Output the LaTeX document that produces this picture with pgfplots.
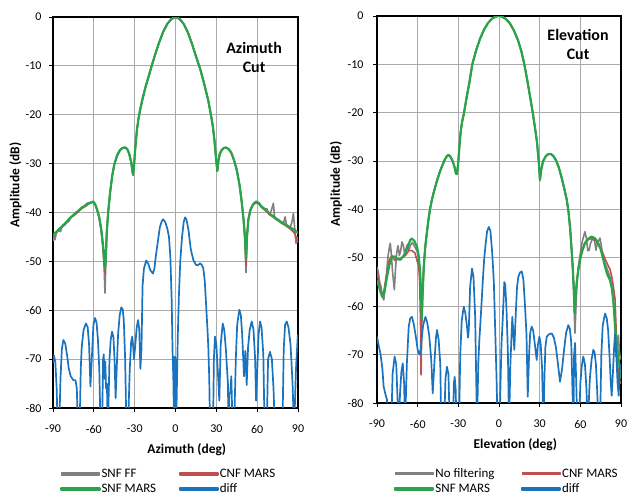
\documentclass[border=0pt]{standalone}
\usepackage{pgfplots}
\pgfplotsset{compat=1.18}
\usepackage{fontspec}
\setmainfont{Carlito}
\definecolor{cgray}{RGB}{128,128,128}
\definecolor{cred}{RGB}{192,80,77}
\definecolor{cgreen}{RGB}{40,165,75}
\definecolor{cblue}{RGB}{25,115,190}
\definecolor{cgrid}{RGB}{170,170,170}
\pgfplotsset{
  patternplot/.style={
    scale only axis,
    xmin=-90,xmax=90,ymin=-80,ymax=0,
    xtick={-90,-60,...,90}, ytick={-80,-70,...,0},
    grid=major, major grid style={cgrid, line width=0.8bp},
    axis line style={black, line width=1.3bp},
    tick align=outside, xtick pos=left, ytick pos=left,
    major tick length=4bp, tick style={black, line width=0.8bp},
    /pgf/number format/assume math mode=true,
    tick label style={font=\fontsize{12}{14}\selectfont},
    xticklabel style={yshift=-9.5bp},
    label style={font=\bfseries\fontsize{13.5}{16}\selectfont},
    legend style={draw=none, fill=none, inner sep=0pt, nodes={inner sep=1bp},
      font=\fontsize{13}{15}\selectfont, anchor=north west, row sep=3bp},
    legend columns=2,
    legend image code/.code={\fill[##1] (0bp,-0.85bp) rectangle (38bp,0.85bp);},
    legend cell align=left,
    every axis plot/.append style={line join=round},
  },
  sgray/.style={cgray, line width=1.6bp},
  sred/.style={cred, line width=1.6bp},
  sgreen/.style={cgreen, line width=2.2bp},
  sblue/.style={cblue, line width=1.7bp},
}
\begin{document}
\begin{tikzpicture}
\useasboundingbox (0,0) rectangle (627bp,496bp);
% ---------------- Azimuth ----------------
\begin{axis}[patternplot, width=245bp, height=391bp, at={(53bp,88bp)}, anchor=south west,
  yticklabel style={xshift=-4bp},
  xlabel={Azimuth (deg)}, ylabel={Amplitude (dB)},
  xlabel style={at={(axis description cs:0.546,0)}, anchor=center, yshift=-41.5bp},
  ylabel style={at={(axis description cs:-0.153,0.570)}, anchor=center},
  legend style={at={(axis description cs:0.029,-0.153)}, /tikz/every even column/.append style={column sep=22bp}}]
\addplot[sgray] coordinates {
(-90,-45.8) (-89.3,-44.8) (-88.6,-45.6) (-87.5,-44.2) (-86,-43.6) (-84.5,-43.9) (-83,-42.6) (-81.5,-42.6) (-80,-41.8) (-78.5,-41.9) (-77,-41) (-75,-40.6) (-73,-39.9) (-71,-39.6) (-69,-38.9) (-67,-38.8) (-65,-38.1) (-63,-38.1) (-60.4,-37.7) (-59,-38.3) (-57.5,-39.6) (-56,-41.2) (-54.5,-44) (-53.3,-47.5) (-52.4,-51.5) (-51.8,-56.5) (-51.2,-50) (-50.5,-44.3)
(-49.5,-40) (-48,-35.8) (-46.5,-32.5) (-45,-30.2) (-43,-28.4) (-41,-27.3) (-39,-26.8) (-37,-26.7) (-35.5,-27) (-34,-28) (-32.5,-29.8) (-31.7,-31.5) (-31.2,-32.3) (-30.5,-30.5) (-30,-28.5) (-29.3,-26) (-28.3,-23) (-27.2,-20.8) (-26,-19) (-24,-16.5) (-22,-14.3) (-20,-12.4) (-17.5,-10) (-15,-7.7) (-12,-5.2) (-9,-3) (-6,-1.4) (-3,-0.4) (0,0) (3,-0.4) (6,-1.4) (9,-3.1) (12,-5.4) (15,-8) (18,-10.5) (21,-13.6) (24,-17) (26,-20) (27.5,-22.5) (28.7,-25.5) (29.8,-29) (30.7,-31.5) (31.5,-29.5) (32.5,-28) (34,-27.2) (35.5,-26.8) (37,-26.7) (39,-27) (41,-27.8) (43,-29.3) (45,-31.3) (47,-34.3) (48.5,-37.5) (50,-41.5)
(51,-45.5) (51.8,-52.3) (52.6,-45) (53.5,-41.5) (55,-39.4) (57,-38.4) (59.2,-37.7) (61,-38) (63,-38.8) (65,-39.3) (67,-39.2) (69,-40.5) (70.5,-39.5) (71.9,-38.1) (72.8,-41) (74,-41.2) (76,-41.5) (78,-42.2) (79.5,-42) (80.5,-40.9) (81.5,-42.5) (83,-43) (84.5,-42.8) (85.5,-42) (86.6,-40.2) (87.5,-43) (88.5,-46.3) (89.3,-45) (90,-46)
};
\addlegendentry{SNF FF}
\addplot[sred] coordinates {
(-90,-45.2) (-88.5,-44.2) (-87,-44) (-85,-43.3) (-83,-42.9) (-81,-42.4) (-79,-41.8) (-77,-40.9) (-75,-40.7) (-72,-40) (-69,-39.2) (-66,-38.7) (-63,-38.1) (-60.4,-37.9) (-59,-38.4) (-57.5,-39.6) (-56,-41.1) (-54.5,-43.7) (-53.3,-46.8) (-52.4,-50) (-51.8,-52.5) (-51.2,-49.2) (-50.5,-44.1)
(-49.5,-40) (-48,-35.8) (-46.5,-32.5) (-45,-30.2) (-43,-28.4) (-41,-27.3) (-39,-26.8) (-37,-26.7) (-35.5,-27) (-34,-28) (-32.5,-29.8) (-31.7,-31.5) (-31.2,-32.3) (-30.5,-30.5) (-30,-28.5) (-29.3,-26) (-28.3,-23) (-27.2,-20.8) (-26,-19) (-24,-16.5) (-22,-14.3) (-20,-12.4) (-17.5,-10) (-15,-7.7) (-12,-5.2) (-9,-3) (-6,-1.4) (-3,-0.4) (0,0) (3,-0.4) (6,-1.4) (9,-3.1) (12,-5.4) (15,-8) (18,-10.5) (21,-13.6) (24,-17) (26,-20) (27.5,-22.5) (28.7,-25.5) (29.8,-29) (30.7,-31.5) (31.5,-29.5) (32.5,-28) (34,-27.2) (35.5,-26.8) (37,-26.7) (39,-27) (41,-27.8) (43,-29.3) (45,-31.3) (47,-34.3) (48.5,-37.5) (50,-41.5)
(51,-45.3) (51.8,-50.8) (52.6,-44.8) (53.5,-41.6) (55,-39.6) (57,-38.4) (59.2,-38) (61,-38.2) (63,-38.9) (66,-39.6) (69,-40.4) (72,-41) (75,-41.6) (78,-42.2) (81,-42.7) (84,-43.3) (86,-43.8) (87.5,-44.3) (88.5,-45) (89.3,-45.8) (90,-46.2)
};
\addlegendentry{CNF MARS}
\addplot[sgreen] coordinates {
(-90,-44.6) (-87,-43.8) (-84,-43) (-81,-42.2) (-78,-41.3) (-75,-40.5) (-72,-39.8) (-69,-39.1) (-66,-38.5) (-63,-38) (-60.4,-37.8) (-59,-38.3) (-57.5,-39.5) (-56,-41) (-54.5,-43.5) (-53.3,-46.5) (-52.4,-49.5) (-51.8,-51.4) (-51.2,-49) (-50.5,-44)
(-49.5,-40) (-48,-35.8) (-46.5,-32.5) (-45,-30.2) (-43,-28.4) (-41,-27.3) (-39,-26.8) (-37,-26.7) (-35.5,-27) (-34,-28) (-32.5,-29.8) (-31.7,-31.5) (-31.2,-32.3) (-30.5,-30.5) (-30,-28.5) (-29.3,-26) (-28.3,-23) (-27.2,-20.8) (-26,-19) (-24,-16.5) (-22,-14.3) (-20,-12.4) (-17.5,-10) (-15,-7.7) (-12,-5.2) (-9,-3) (-6,-1.4) (-3,-0.4) (0,0) (3,-0.4) (6,-1.4) (9,-3.1) (12,-5.4) (15,-8) (18,-10.5) (21,-13.6) (24,-17) (26,-20) (27.5,-22.5) (28.7,-25.5) (29.8,-29) (30.7,-31.5) (31.5,-29.5) (32.5,-28) (34,-27.2) (35.5,-26.8) (37,-26.7) (39,-27) (41,-27.8) (43,-29.3) (45,-31.3) (47,-34.3) (48.5,-37.5) (50,-41.5)
(51,-45) (51.8,-49.3) (52.6,-44.5) (53.5,-41.5) (55,-39.5) (57,-38.3) (59.2,-37.8) (61,-38) (63,-38.7) (66,-39.4) (69,-40.2) (72,-40.8) (75,-41.5) (78,-42) (81,-42.5) (84,-43) (87,-43.5) (90,-44.2)
};
\addlegendentry{SNF MARS}
\addplot[sblue] coordinates {
(-90,-70.8) (-89.3,-69.3) (-88.3,-70.5) (-87.3,-76) (-86.5,-85) (-85.5,-85) (-84.5,-74) (-83.5,-68) (-82.4,-66.1) (-81,-66.8) (-79.5,-69.5) (-78.5,-71.8) (-77,-73.5) (-75.1,-74.3) (-73.5,-74.3) (-72.5,-76) (-71.6,-85) (-70.5,-85) (-69.6,-72) (-68.9,-67.5) (-67.5,-64) (-65.8,-62.7) (-64.5,-63.5) (-63.5,-67) (-62.5,-75.6) (-61.5,-70) (-60.3,-63) (-59.1,-61.6) (-58,-62.5) (-57,-66) (-56,-72) (-55,-85) (-54,-85) (-53.2,-70) (-52.7,-69) (-52.2,-74) (-51.6,-70.5) (-51,-76) (-50.4,-75) (-49.7,-85) (-48.5,-70) (-47.6,-66) (-46.6,-64.4) (-45.6,-65.5) (-44.8,-70) (-44,-78) (-43.2,-72) (-42.2,-65) (-41,-61) (-39.8,-59.4) (-38.8,-59.8) (-38,-62) (-37,-70) (-36,-85) (-35,-85) (-33.6,-72) (-32.6,-66.5) (-31.8,-65.4) (-31.2,-67) (-30.5,-70) (-29.8,-68) (-28.5,-63.5) (-27.5,-62) (-26.6,-64) (-25.8,-72) (-25,-68) (-24.2,-55) (-23.2,-51.5) (-21.5,-49.8) (-20,-50.5) (-18.5,-51.8) (-16.6,-52.5) (-15.5,-51.5) (-14.5,-49) (-13,-46) (-11.5,-43) (-10,-41.7) (-9,-41.4) (-7.5,-42) (-6,-43.3) (-4.8,-45) (-3.8,-49) (-2.8,-58) (-2.2,-68) (-1.6,-74) (-1,-85) (-0.5,-69.5) (0,-70) (0.4,-85) (1,-76) (1.7,-65) (2.5,-57) (3.5,-50) (4.8,-45) (6,-42) (7,-41) (8,-41.4) (9.5,-43.5) (11.2,-47.5) (13.1,-49.7) (15,-50.7) (16.5,-50.8) (18,-50.4) (19.3,-50.7) (20.4,-51.4) (21.5,-54) (22.5,-59) (23.5,-64) (24.1,-67.5) (24.8,-74) (25.4,-85) (27.5,-85) (28.2,-70) (29,-65.4) (30,-67) (31.2,-73) (32.2,-78.5) (33.2,-67) (34.7,-62.7) (35.8,-64) (37,-68) (38.5,-75) (39,-85) (39.5,-77) (40.2,-77) (41,-73.5) (42,-85) (43,-85) (44.3,-70) (45.3,-63) (46.9,-59.9) (48,-61) (49,-65) (50.3,-73.5) (51.3,-68.3) (52.3,-75.3) (53.3,-67.6) (54.5,-64) (56,-62.3) (57.3,-64) (58.5,-70) (59.2,-78.5) (60,-73) (61,-65) (62.1,-62.3) (63.2,-63.5) (64.5,-69) (65.5,-85) (67,-85) (68,-70) (69.4,-68.5) (70.8,-70) (72,-76) (73.1,-85) (78.5,-85) (79.5,-68) (80.5,-63) (81.7,-62.3) (83,-63.5) (84.5,-67) (86,-75) (87.1,-85) (88.5,-72) (89.8,-65.4) (90,-65)
};
\addlegendentry{diff}
\node[font=\bfseries\fontsize{16}{19}\selectfont, align=center] at (axis cs:57.7,-8.2) {Azimuth\\Cut};
\end{axis}
% ---------------- Elevation ----------------
\begin{axis}[patternplot, width=244bp, height=387bp, at={(377bp,93bp)}, anchor=south west,
  yticklabel style={xshift=-6bp},
  xlabel={Elevation (deg)}, ylabel={Amplitude (dB)},
  xlabel style={at={(axis description cs:0.567,0)}, anchor=center, yshift=-41.5bp},
  ylabel style={at={(axis description cs:-0.168,0.566)}, anchor=center},
  legend style={at={(axis description cs:0.070,-0.166)}, /tikz/every even column/.append style={column sep=26bp}}]
\addplot[sgray] coordinates {
(-90,-51.9) (-89,-53) (-88,-55) (-87,-56) (-86,-58) (-85,-58.7) (-84,-56) (-83,-53.5) (-82,-50) (-81,-48) (-80.2,-47) (-79.5,-49) (-78.5,-53) (-77.2,-56.6) (-76.5,-53) (-75.5,-49) (-74.5,-47.5) (-73.5,-49.5) (-72.5,-48.5) (-71.6,-46.7) (-70.5,-47.5) (-69.5,-49.5) (-68.5,-48) (-67.5,-47.2) (-66.5,-48.5) (-65.5,-47.5) (-64,-46.8) (-62.5,-47.5) (-60.5,-48.6) (-59.3,-50) (-58.3,-53) (-57.5,-58) (-57,-63) (-56.3,-57) (-55.5,-52) (-54.5,-48) (-53.3,-45) (-52,-42) (-50.8,-39.8)
(-49.5,-38) (-48,-36.3) (-46,-34.3) (-44,-32.5) (-42,-31) (-40,-29.7) (-38.5,-29) (-37.4,-28.7) (-36,-29) (-34.5,-29.8) (-33,-31) (-31.8,-32.5) (-31.2,-32.7) (-30.6,-31.8) (-30,-30) (-29.2,-27) (-28.3,-24) (-27.3,-22) (-25.8,-20) (-24,-17) (-22,-14) (-19.7,-10) (-17,-7.2) (-14,-4.7) (-11,-2.8) (-8,-1.4) (-5,-0.5) (-2,-0.1) (0,0) (2,-0.1) (5,-0.6) (8,-1.5) (11,-3) (14,-5) (16.5,-7.3) (18.7,-10) (21,-13.5) (23,-16.8) (24.9,-20) (26.5,-23) (28,-26) (29.3,-30) (30.2,-33.9) (31,-32) (32.5,-30) (34.5,-29) (36,-28.6) (38.1,-28.5) (40,-28.9) (42,-29.8) (44,-31.2) (46,-33.2) (48,-35.5) (50,-38)
(51.3,-40.5) (52.5,-44) (53.5,-48) (54.5,-53) (55.2,-58) (56,-65.6) (56.8,-60) (57.5,-55) (58.5,-52) (60,-49) (61.5,-46.5) (63.4,-44.6) (64.5,-46) (65.5,-48.5) (66.5,-48.4) (67.5,-47) (69,-46) (70.5,-46.5) (71.5,-48.4) (72.5,-47) (74.5,-45.9) (75.5,-47.5) (76.5,-49.5) (78,-51) (80,-52.5) (82,-54) (83.5,-56.5) (85,-61) (86.1,-70.4) (87,-68) (88,-66) (89,-70) (90,-71)
};
\addlegendentry{No filtering}
\addplot[sred] coordinates {
(-90,-53) (-89,-54.5) (-88,-56) (-86.5,-57.5) (-85,-57) (-83,-53.5) (-81,-50.5) (-79,-49.5) (-77,-50.5) (-75,-50.3) (-73,-50.2) (-71,-49.8) (-69,-49.5) (-66.6,-48.5) (-64.2,-48.5) (-62,-49) (-60.5,-50.5) (-59.2,-51.8) (-58.5,-55) (-57.8,-65) (-57.5,-74.2) (-57.1,-67) (-56.5,-58) (-55.6,-52) (-54.5,-48) (-53.3,-45) (-52,-42) (-50.8,-39.8)
(-49.5,-38) (-48,-36.3) (-46,-34.3) (-44,-32.5) (-42,-31) (-40,-29.7) (-38.5,-29) (-37.4,-28.7) (-36,-29) (-34.5,-29.8) (-33,-31) (-31.8,-32.5) (-31.2,-32.7) (-30.6,-31.8) (-30,-30) (-29.2,-27) (-28.3,-24) (-27.3,-22) (-25.8,-20) (-24,-17) (-22,-14) (-19.7,-10) (-17,-7.2) (-14,-4.7) (-11,-2.8) (-8,-1.4) (-5,-0.5) (-2,-0.1) (0,0) (2,-0.1) (5,-0.6) (8,-1.5) (11,-3) (14,-5) (16.5,-7.3) (18.7,-10) (21,-13.5) (23,-16.8) (24.9,-20) (26.5,-23) (28,-26) (29.3,-30) (30.2,-33.9) (31,-32) (32.5,-30) (34.5,-29) (36,-28.6) (38.1,-28.5) (40,-28.9) (42,-29.8) (44,-31.2) (46,-33.2) (48,-35.5) (50,-38)
(51.3,-40.5) (52.5,-44) (53.5,-48) (54.5,-52.5) (55.2,-56.5) (55.8,-60.5) (56.5,-57.5) (57.3,-55) (58.5,-52.3) (59.8,-50.2) (61.5,-48.2) (63.4,-46.8) (66,-46.2) (68.4,-46) (71,-46.3) (73.3,-47.3) (75,-48) (77,-49.3) (78.2,-50.2) (80,-51.3) (81.9,-52.4) (83.1,-53.8) (84.3,-55.8) (85.6,-58.5) (86.3,-64) (86.8,-69) (87.5,-72) (88.5,-75) (90,-76)
};
\addlegendentry{CNF MARS}
\addplot[sgreen] coordinates {
(-90,-54.6) (-88,-56.5) (-86.3,-58) (-84.5,-57) (-82.6,-53.9) (-80.5,-51) (-78.9,-49.8) (-77,-49.7) (-75.2,-50.2) (-72.8,-50.4) (-71,-49.8) (-69.1,-49) (-67,-47.5) (-65.5,-46.3) (-64.2,-46) (-62.5,-46.5) (-60.5,-47.7) (-59.3,-49.5) (-58.3,-52.5) (-57.5,-57) (-57,-62.8) (-56.3,-57) (-55.5,-52) (-54.5,-48) (-53.3,-45) (-52,-42) (-50.8,-39.8)
(-49.5,-38) (-48,-36.3) (-46,-34.3) (-44,-32.5) (-42,-31) (-40,-29.7) (-38.5,-29) (-37.4,-28.7) (-36,-29) (-34.5,-29.8) (-33,-31) (-31.8,-32.5) (-31.2,-32.7) (-30.6,-31.8) (-30,-30) (-29.2,-27) (-28.3,-24) (-27.3,-22) (-25.8,-20) (-24,-17) (-22,-14) (-19.7,-10) (-17,-7.2) (-14,-4.7) (-11,-2.8) (-8,-1.4) (-5,-0.5) (-2,-0.1) (0,0) (2,-0.1) (5,-0.6) (8,-1.5) (11,-3) (14,-5) (16.5,-7.3) (18.7,-10) (21,-13.5) (23,-16.8) (24.9,-20) (26.5,-23) (28,-26) (29.3,-30) (30.2,-33.9) (31,-32) (32.5,-30) (34.5,-29) (36,-28.6) (38.1,-28.5) (40,-28.9) (42,-29.8) (44,-31.2) (46,-33.2) (48,-35.5) (50,-38)
(51.3,-40.5) (52.5,-44) (53.5,-48) (54.5,-52.5) (55.2,-56.5) (55.8,-61.5) (56.5,-58) (57.3,-55.3) (58.5,-52.5) (59.8,-50.4) (61.5,-48.5) (63.4,-47) (66,-46) (68.4,-45.6) (71,-46) (73.3,-47) (75,-48.2) (77,-50.4) (78.2,-51.8) (80,-53.5) (81.9,-54.6) (83.2,-56.2) (84.3,-58.7) (85.2,-62) (86.1,-65.6) (88,-70.4) (90,-75)
};
\addlegendentry{SNF MARS}
\addplot[sblue] coordinates {
(-90,-66.3) (-88.5,-68.5) (-87.5,-69.7) (-86,-73) (-85.1,-76.6) (-83.5,-78.5) (-82.6,-79.3) (-82,-85) (-79.5,-85) (-78.5,-74) (-77,-70.4) (-75.8,-72) (-75,-78) (-74,-85) (-73,-78) (-72,-73.5) (-71,-71.8) (-70,-76) (-69.3,-85) (-68,-72) (-66.6,-64.2) (-65.5,-62.5) (-64.2,-62.2) (-63,-63.5) (-61.5,-66) (-60,-69) (-59.2,-69.7) (-58.4,-70) (-57.5,-68) (-56,-64) (-54.3,-62.2) (-53,-63.3) (-51.5,-66) (-50,-71) (-48.9,-78) (-47.5,-71) (-46.5,-66.5) (-45.7,-64.9) (-44.5,-67) (-43.3,-72) (-42.6,-85) (-40.5,-85) (-39.5,-75) (-38.4,-72.5) (-37.3,-74) (-36.3,-85) (-34,-85) (-33.3,-76) (-32.7,-74.6) (-32,-77) (-31.3,-85) (-29.5,-85) (-28.6,-70) (-27.5,-63) (-26,-60.1) (-24.8,-61.5) (-23.7,-64) (-22.8,-66.5) (-22.3,-64.9) (-21.3,-56) (-19.9,-52.2) (-18.8,-54) (-17.6,-62) (-16.2,-85) (-15.3,-72) (-14.5,-67) (-13,-60) (-12,-55) (-11,-50.5) (-10.1,-47.7) (-8.8,-44.5) (-7.5,-43.6) (-6.3,-44.5) (-5,-49) (-3.8,-55) (-2.8,-65) (-1.8,-75) (-1,-85) (0,-85) (0.8,-80) (1.8,-68) (2.7,-63) (3.9,-55) (4.6,-55.5) (5.6,-61) (6.6,-70) (7.4,-85) (8.4,-72) (9.8,-62.2) (10.5,-65) (11.3,-69) (12.3,-62) (13.3,-56) (14.3,-53.9) (15.5,-53) (16.8,-52.8) (18,-54.5) (19.2,-60) (20.3,-66) (21.2,-78.7) (22.2,-70) (23,-65.5) (24.1,-64.2) (25.2,-65) (26.5,-68) (27.8,-71.1) (28.7,-68) (29.8,-66.3) (30.8,-68) (31.8,-73) (32.7,-85) (33.5,-75) (34.2,-68.5) (35.2,-66.3) (36.8,-65.8) (38.9,-65.6) (40.5,-66.5) (42,-68.5) (43.5,-72) (45,-75.6) (46.5,-73) (48,-69) (49.5,-65.5) (51.1,-63.9) (52.3,-64.7) (53.3,-67.5) (54.9,-85) (55.4,-70) (56.1,-67.6) (57,-76) (57.8,-85) (59,-85) (60,-76) (61,-72.5) (62.2,-70.4) (63.4,-72) (64.5,-77) (65.4,-85) (67,-75) (68.3,-71) (69.6,-69) (70.5,-69.5) (71.5,-72) (72.5,-78) (73.3,-85) (74.5,-85) (75.5,-70) (76.5,-64) (78.2,-61.5) (79.5,-62.5) (80.5,-65) (81.5,-70) (82.3,-75) (83.1,-78.5) (84,-74) (85,-68) (85.6,-65.8) (86.5,-70) (87.5,-76) (88.3,-78.5) (89,-73) (90,-72)
};
\addlegendentry{diff}
\node[font=\bfseries\fontsize{16}{19}\selectfont, align=center] at (axis cs:58.3,-5.9) {Elevation\\Cut};
\end{axis}
\end{tikzpicture}
\end{document}
